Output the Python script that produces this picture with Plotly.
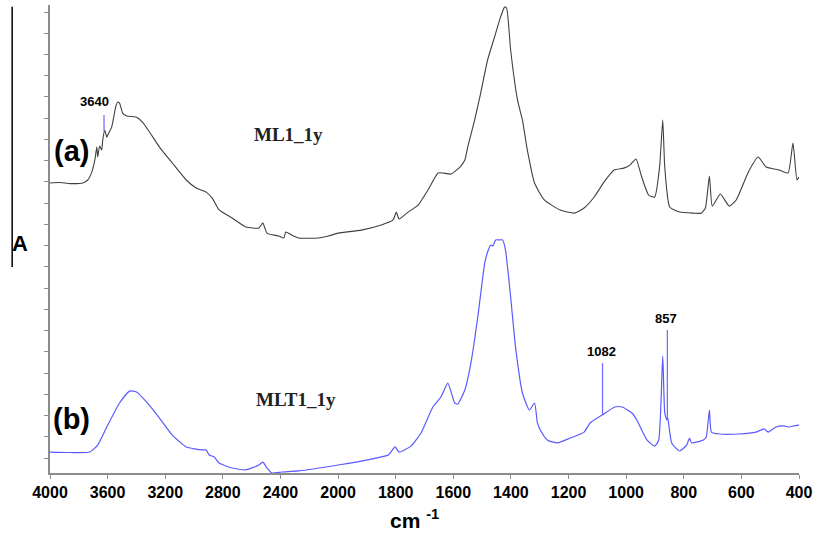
import plotly.graph_objects as go

# ---- data (wavenumber cm-1, absorbance in arbitrary offset units) ----
wn_a = [4000, 3930, 3860, 3772, 3738, 3710, 3689, 3675, 3669, 3655, 3641, 3634, 3620, 3606, 3599,
        3572, 3544, 3530, 3517, 3496, 3468, 3399, 3358, 3309, 3240, 3151, 3054, 2985, 2916, 2874,
        2826, 2736, 2640, 2550, 2522, 2494, 2412, 2377, 2363, 2322, 2274, 2136, 2067, 2000, 1919,
        1850, 1809, 1798, 1788, 1757, 1722, 1688, 1653, 1636, 1608, 1577, 1560, 1550, 1526, 1505,
        1481, 1457, 1436, 1422, 1415, 1401, 1377, 1360, 1343, 1318, 1284, 1229, 1180, 1146, 1111,
        1077, 1042, 1008, 987, 966, 946, 922, 901, 884, 873, 866, 849, 815, 766, 739, 725, 711,
        701, 673, 642, 618, 576, 542, 514, 469, 438, 421, 407, 400]
abs_a = [12.95, 12.97, 12.92, 12.95, 13.09, 13.46, 14.03, 14.64, 14.17, 14.69, 14.50, 14.97, 15.44, 15.11, 15.21,
         15.58, 16.53, 16.76, 16.71, 16.24, 16.10, 16.05, 15.82, 15.35, 14.64, 13.89, 13.09, 12.71, 12.52, 12.24,
         11.68, 11.30, 10.88, 10.83, 11.06, 10.59, 10.45, 10.36, 10.64, 10.50, 10.36, 10.36, 10.45, 10.59, 10.73,
         10.97, 11.21, 11.58, 11.25, 11.58, 11.91, 12.62, 13.42, 13.42, 13.37, 13.70, 14.03, 14.64, 15.91, 17.18,
         18.74, 19.82, 20.76, 21.23, 21.19, 19.21, 16.85, 15.91, 14.50, 12.95, 12.15, 11.68, 11.53, 11.77, 12.29,
         12.99, 13.56, 13.65, 13.79, 14.08, 13.23, 12.38, 12.29, 13.70, 15.91, 13.70, 11.82, 11.58, 11.53, 11.53, 11.77, 13.28,
         11.86, 12.43, 11.86, 12.15, 13.46, 14.17, 13.70, 13.56, 13.42, 14.83, 13.09, 13.23]

wn_b = [4000, 3860, 3724, 3669, 3606, 3517, 3448, 3399, 3330, 3240, 3151, 3054, 2943, 2916, 2895,
        2860, 2826, 2736, 2640, 2550, 2522, 2494, 2460, 2391, 2274, 2000, 1885, 1826, 1802, 1788,
        1747, 1712, 1671, 1643, 1619, 1595, 1585, 1560, 1539, 1515, 1491, 1481, 1470, 1463, 1453,
        1439, 1429, 1419, 1401, 1384, 1360, 1336, 1318, 1308, 1298, 1274, 1239, 1194, 1146, 1125,
        1084, 1039, 1014, 980, 963, 928, 901, 887, 873, 866, 859, 856, 842, 815, 790, 780, 773,
        732, 722, 711, 704, 677, 608, 549, 521, 507, 480, 452, 435, 418, 400]
abs_b = [0.28, 0.26, 0.28, 0.61, 1.46, 2.59, 3.15, 3.11, 2.64, 1.88, 1.08, 0.52, 0.38, 0.38, 0.14,
         0.05, -0.24, -0.47, -0.56, -0.33, -0.19, -0.47, -0.71, -0.66, -0.61, -0.33, -0.05, 0.14, 0.52, 0.28,
         0.56, 1.18, 2.40, 2.87, 3.53, 2.59, 2.54, 3.20, 4.47, 6.64, 9.18, 9.70, 10.03, 9.98, 10.27,
         10.27, 10.27, 9.80, 7.58, 5.23, 3.06, 2.26, 2.59, 1.65, 1.32, 0.85, 0.71, 0.94, 1.22, 1.65,
         2.02, 2.40, 2.40, 2.12, 1.79, 0.85, 0.56, 0.85, 4.80, 2.12, 1.79, 1.93, 0.71, 0.33, 0.61, 0.94, 0.71,
         0.85, 0.99, 2.26, 1.22, 1.13, 1.13, 1.22, 1.37, 1.22, 1.46, 1.51, 1.46, 1.51, 1.55]

tick_wn = [4000, 3600, 3200, 2800, 2400, 2000, 1800, 1600, 1400, 1200, 1000, 800, 600, 400]

mark_wn = [3625, 1082, 857]
mark_top = [16.15, 4.47, 6.03]
mark_bottom = [15.40, 2.02, 1.79]
mark_text = ["3640", "1082", "857"]


def pos(w):
    # instrument axis: 400 cm-1 per division above 2000, 200 cm-1 per division below
    return (4000 - w) / 400 if w >= 2000 else 5 + (2000 - w) / 200


fig = go.Figure()
fig.add_trace(go.Scatter(x=[pos(w) for w in wn_a], y=abs_a, mode="lines",
                         line=dict(color="#404040", width=1.1, shape="spline", smoothing=0.5),
                         showlegend=False))
fig.add_trace(go.Scatter(x=[pos(w) for w in wn_b], y=abs_b, mode="lines",
                         line=dict(color="#5a5aff", width=1.2, shape="spline", smoothing=0.5),
                         showlegend=False))
for w, t, b in zip(mark_wn, mark_top, mark_bottom):
    fig.add_trace(go.Scatter(x=[pos(w), pos(w)], y=[t, b], mode="lines",
                             line=dict(color="#6a6aff", width=1.2), showlegend=False))

bold = dict(family="Liberation Sans, Arial", color="black", weight="bold")
for w, t, txt in zip(mark_wn, mark_top, mark_text):
    fig.add_annotation(x=pos(w), y=t + 0.55, text=txt, showarrow=False, xanchor="center",
                       font=dict(size=13, **bold), xshift=-10 if txt == "3640" else -1,
                       yshift=2 if txt == "3640" else 0)

serif = dict(family="Liberation Serif, Times New Roman", size=19, color="#222", weight="bold")
fig.add_annotation(x=pos(2343), y=15.25, text="ML1_1y", showarrow=False, font=serif)
fig.add_annotation(x=pos(2294), y=2.75, text="MLT1_1y", showarrow=False, font=serif)
fig.add_annotation(x=pos(3848), y=14.45, text="(a)", showarrow=False, font=dict(size=29, **bold))
fig.add_annotation(x=pos(3848), y=1.84, text="(b)", showarrow=False, font=dict(size=29, **bold))

# absorbance bar and label outside the plot
fig.add_shape(type="line", xref="paper", yref="paper", x0=-0.0505, x1=-0.0505,
              y0=0.996, y1=0.440, line=dict(color="black", width=1.5))
fig.add_annotation(xref="paper", yref="paper", x=-0.0400, y=0.490, text="A", showarrow=False,
                   xanchor="center", yanchor="middle", font=dict(size=22, **bold))
fig.add_annotation(xref="paper", yref="paper", x=0.487, y=-0.098, text="cm <sup>-1</sup>",
                   showarrow=False, xanchor="center", yanchor="middle", font=dict(size=21, **bold))

fig.update_xaxes(range=[0, 13], tickvals=[pos(w) for w in tick_wn], ticktext=[str(w) for w in tick_wn],
                 showgrid=False, zeroline=False, showline=True, linecolor="#8c8c8c", linewidth=1.5,
                 ticks="outside", ticklen=4, tickcolor="#8c8c8c", tickfont=dict(size=16, **bold))
fig.update_yaxes(range=[-0.706, 21.33], tick0=0, dtick=1, showticklabels=False,
                 showgrid=False, zeroline=False, showline=True, linecolor="#8c8c8c", linewidth=1.5,
                 ticks="outside", ticklen=4, tickcolor="#8c8c8c")
fig.update_layout(width=817, height=534, autosize=False,
                  margin=dict(l=50, r=14, t=5, b=61),
                  plot_bgcolor="white", paper_bgcolor="white")
fig.write_html("out.html")
